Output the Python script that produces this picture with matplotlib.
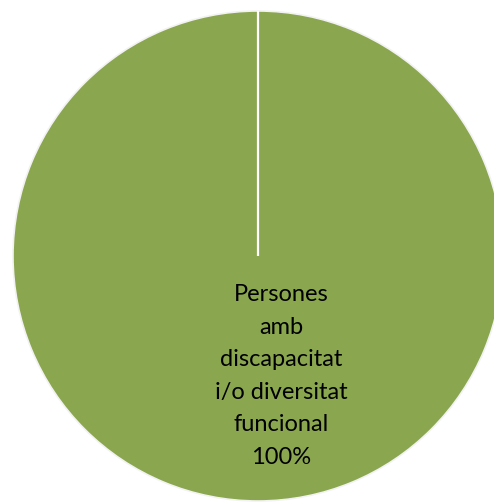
import numpy as np
import matplotlib
matplotlib.use("Agg")
import matplotlib.pyplot as plt

## DATOS

etiquetas = ["Persones\namb\ndiscapacitat\ni/o diversitat\nfuncional"]
valores = [100]
colores = ["#8aa64f"]

## FIGURA

fig = plt.figure(figsize=(4.94, 5.03), dpi=100)
# circulo: centro (258, 256) px, radio 245 px
ax = fig.add_axes([13 / 494, 2 / 503, 490 / 494, 490 / 503])

inicio = 90
ax.pie(valores, colors=colores, startangle=inicio, counterclock=False, radius=1,
       wedgeprops=dict(edgecolor="#f2f2f2", linewidth=1.2))

# linea blanca de separacion del sector
ang = np.deg2rad(inicio)
ax.plot([0, np.cos(ang)], [0, np.sin(ang)], color="white", lw=1.6, solid_capstyle="butt")

total = sum(valores)
for etq, v in zip(etiquetas, valores):
    ax.text(0.094, -0.49, f"{etq}\n{v / total * 100:.0f}%", ha="center", va="center",
            multialignment="center", fontsize=17, family="Lato", color="black",
            linespacing=1.68)

ax.set_xlim(-1, 1)
ax.set_ylim(-1, 1)
ax.set_aspect("equal")
ax.axis("off")

fig.savefig("out.png", dpi=100)
